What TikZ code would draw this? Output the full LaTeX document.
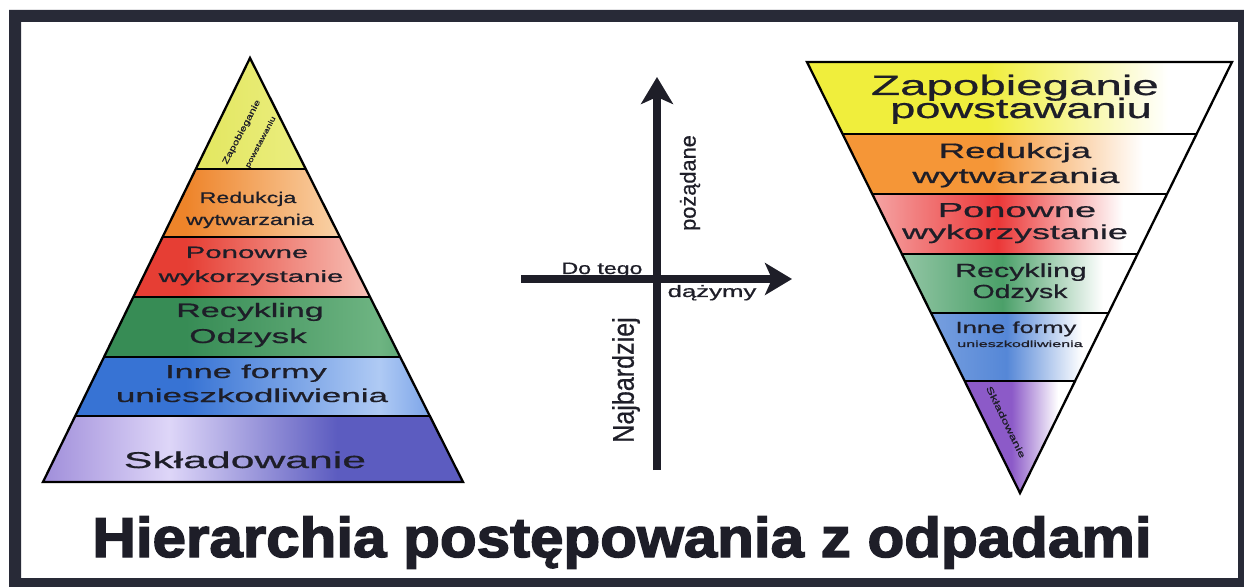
\documentclass[tikz,border=0pt]{standalone}
\usepackage{graphicx}
\usepackage{fontspec}
\setmainfont{Liberation Sans}[FakeBold=0.6]
\newfontfamily\titlefont{Liberation Sans Bold}[FakeBold=2.5]
\usepackage{tikz}
\usetikzlibrary{arrows.meta}

\definecolor{framecol}{RGB}{40,42,55}
\definecolor{ink}{RGB}{30,30,40}
% left pyramid
\definecolor{lyelA}{RGB}{226,230,92}
\definecolor{lyelB}{RGB}{240,242,150}
\definecolor{lorgA}{RGB}{238,132,42}
\definecolor{lorgB}{RGB}{252,230,200}
\definecolor{lorgC}{RGB}{244,170,100}
\definecolor{lredA}{RGB}{230,62,52}
\definecolor{lredB}{RGB}{248,200,190}
\definecolor{lredC}{RGB}{236,100,90}
\definecolor{lgrnA}{RGB}{55,140,85}
\definecolor{lgrnB}{RGB}{110,180,130}
\definecolor{lbluA}{RGB}{55,115,212}
\definecolor{lbluB}{RGB}{175,202,244}
\definecolor{lbluC}{RGB}{90,140,225}
\definecolor{lpurA}{RGB}{160,142,218}
\definecolor{lpurB}{RGB}{222,214,248}
\definecolor{lpurC}{RGB}{92,92,192}
% right pyramid
\definecolor{ryel}{RGB}{240,238,60}
\definecolor{rorg}{RGB}{245,150,55}
\definecolor{rredA}{RGB}{245,165,165}
\definecolor{rred}{RGB}{235,55,55}
\definecolor{rgrn}{RGB}{75,160,105}
\definecolor{rblu}{RGB}{85,135,215}
\definecolor{rpur}{RGB}{140,90,200}

\pgfdeclarehorizontalshading[bandA,bandB,bandC]{lband}{100bp}{color(0bp)=(bandA);
    color(25bp)=(bandA); color(42bp)=(bandA); color(65bp)=(bandB); color(75bp)=(bandC); color(100bp)=(bandC)}
\pgfdeclarehorizontalshading[bandA,bandB,bandC]{lbandp}{100bp}{color(0bp)=(bandA);
    color(25bp)=(bandA); color(40bp)=(bandB); color(60bp)=(bandC); color(100bp)=(bandC)}

\newcommand{\stxt}[3]{\fontsize{#1}{#1}\selectfont\scalebox{#2}[1]{#3}}

\tikzset{
    lab/.style={text=ink, inner sep=0pt, anchor=base},
    axis/.style={draw=ink, line width=4pt, -{Stealth[length=0.54cm, width=0.64cm, inset=0.14cm]}},
}

\begin{document}
\begin{tikzpicture}[x=0.02cm, y=-0.02cm]
\useasboundingbox (0,0) rectangle (1244,587);
\fill[framecol, even odd rule] (9,10) rectangle (1244,587) (21,22) rectangle (1238,578);

% left pyramid
\coordinate (ltop) at (250,58);
\coordinate (lright) at (463,482);
\coordinate (lleft) at (43,482);
\begin{scope}
\clip (ltop) -- (lright) -- (lleft) -- cycle;
\foreach \ya/\yb/\ca/\cb/\cc/\sh in {58/169/lyelA/lyelB/lyelB/lband,
    169/237/lorgA/lorgB/lorgC/lband, 237/297/lredA/lredB/lredC/lband,
    297/357/lgrnA/lgrnB/lgrnA/lband, 357/416/lbluA/lbluB/lbluC/lband,
    416/482/lpurA/lpurB/lpurC/lbandp}
  {
  \colorlet{bandA}{\ca}\colorlet{bandB}{\cb}\colorlet{bandC}{\cc}
  \shade[shading=\sh] (43,\ya) rectangle (463,\yb);
  }
\foreach \y in {169,237,297,357,416}
  \draw[line width=1pt] (0,\y) -- (500,\y);
\end{scope}
\draw[line width=1.3pt, line join=miter] (ltop) -- (lright) -- (lleft) -- cycle;

\node[lab, anchor=center, rotate=62, align=center] (lzap) at (251,137)
    {\stxt{4.8}{1.4}{Zapobieganie}\\\stxt{4}{1.4}{powstawaniu}};
\node[lab] (lred1) at (248,203) {\stxt{8.8}{1.5}{Redukcja}};
\node[lab] (lred2) at (250,225) {\stxt{8.8}{1.5}{wytwarzania}};
\node[lab] (lpon1) at (247,258) {\stxt{9.3}{1.8}{Ponowne}};
\node[lab] (lpon2) at (251,282) {\stxt{9.3}{1.8}{wykorzystanie}};
\node[lab] (lrec1) at (250,317) {\stxt{11}{1.76}{Recykling}};
\node[lab] (lrec2) at (248,343) {\stxt{11.4}{1.76}{Odzysk}};
\node[lab] (linn1) at (246,378) {\stxt{10.7}{1.82}{Inne formy}};
\node[lab] (linn2) at (252,402) {\stxt{10.7}{1.86}{unieszkodliwienia}};
\node[lab] (lskl) at (245,468) {\stxt{13}{1.87}{Składowanie}};

% axes
\coordinate (vbot) at (657,470);
\coordinate (vtop) at (657,77);
\coordinate (hleft) at (521,279);
\coordinate (hright) at (792,279);
\draw[axis] (vbot) -- (vtop);
\draw[axis] (hleft) -- (hright);
\node[lab] (dotego) at (602,274) {\stxt{9.4}{1.4}{Do tego}};
\node[lab] (dazymy) at (712,297) {\stxt{9.4}{1.56}{dążymy}};
\node[lab, anchor=center, rotate=90] (pozad) at (690,183) {\stxt{12.4}{1}{pożądane}};
\node[lab, anchor=center, rotate=90] (najb) at (626,380) {\stxt{17}{0.84}{Najbardziej}};

% right pyramid
\coordinate (rleft) at (807,62);
\coordinate (rright) at (1232,62);
\coordinate (rbot) at (1020,493);
\begin{scope}
\clip (rleft) -- (rright) -- (rbot) -- cycle;
\foreach \ya/\yb/\ca/\cb/\xa/\xb in {62/134/ryel/ryel/807/1168,
    134/194/rorg/rorg/842/1143, 194/254/rredA/rred/872/1123,
    254/313/rgrn!60/rgrn/902/1103, 313/381/rblu!80/rblu/931/1082,
    381/493/rpur/rpur/965/1058}
  \shade[left color=\ca, right color=white, middle color=\cb] (\xa,\ya) rectangle (\xb,\yb);
\foreach \y in {134,194,254,313,381}
  \draw[line width=1pt] (780,\y) -- (1244,\y);
\end{scope}
\draw[line width=1.3pt, line join=miter] (rleft) -- (rright) -- (rbot) -- cycle;

\node[lab] (rzap1) at (1015,95) {\stxt{15.9}{1.7}{Zapobieganie}};
\node[lab] (rzap2) at (1021,118) {\stxt{15.9}{1.62}{powstawaniu}};
\node[lab] (rred1) at (1015,158) {\stxt{11.9}{1.75}{Redukcja}};
\node[lab] (rred2) at (1016,183) {\stxt{11.9}{1.8}{wytwarzania}};
\node[lab] (rpon1) at (1017,217) {\stxt{11.5}{1.88}{Ponowne}};
\node[lab] (rpon2) at (1015,239) {\stxt{11.5}{1.78}{wykorzystanie}};
\node[lab] (rrec1) at (1021,277) {\stxt{10.8}{1.6}{Recykling}};
\node[lab] (rrec2) at (1020,298) {\stxt{10.8}{1.5}{Odzysk}};
\node[lab] (rinn1) at (1016,333) {\stxt{9.1}{1.6}{Inne formy}};
\node[lab] (rinn2) at (1020,347) {\stxt{5.1}{1.8}{unieszkodliwienia}};
\node[lab, anchor=center, rotate=-64] (rskl) at (1006,422) {\stxt{5.1}{1.55}{Składowanie}};

\node[lab] (title) at (622,557) {\titlefont\fontsize{29}{29}\selectfont\scalebox{1.18}[1.1]{Hierarchia postępowania z odpadami}};
\end{tikzpicture}
\end{document}
